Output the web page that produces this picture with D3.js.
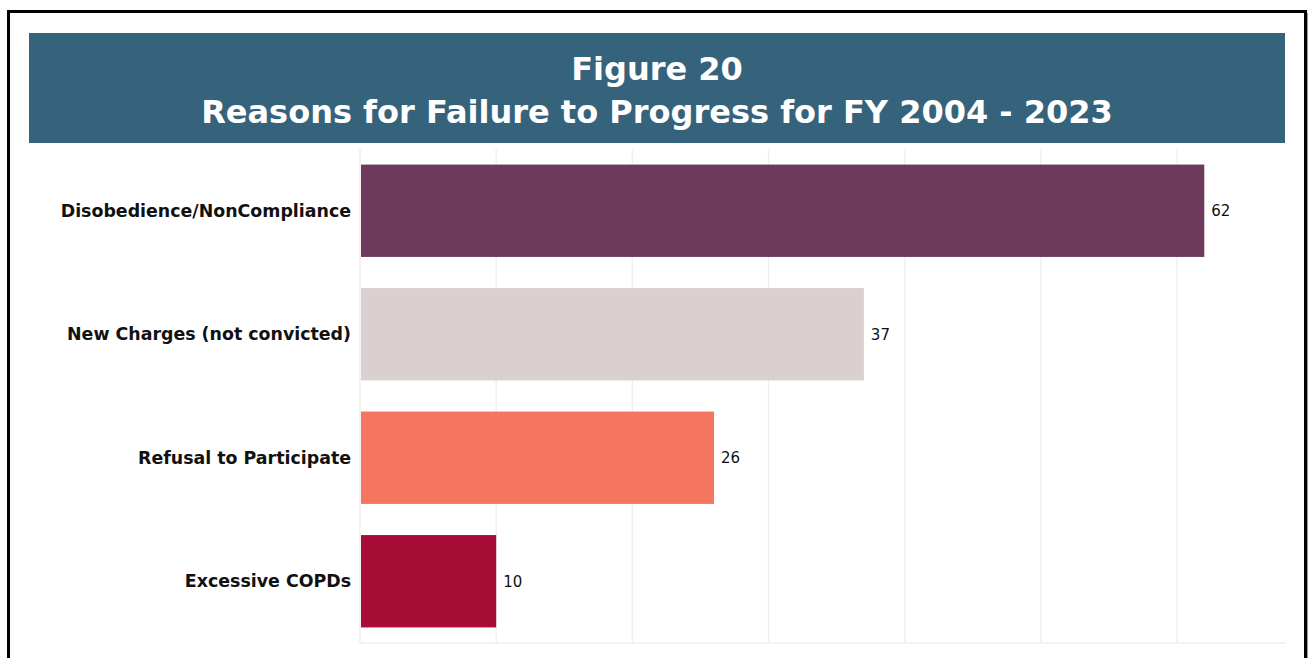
<!DOCTYPE html>
<html>
<head>
  <script src="https://cdn.jsdelivr.net/npm/d3@7"></script>
  <style>
    body { margin: 0; background: #fff; }
  </style>
</head>
<body>
  <svg width="1312" height="658"></svg>
  <script>
    const categories = ['Disobedience/NonCompliance', 'New Charges (not convicted)', 'Refusal to Participate', 'Excessive COPDs'];
    const values = [62, 37, 26, 10];
    const barColors = ['#6d3a5c', '#d9d0cf', '#f47661', '#a80d37'];
    const tickValues = [0, 10, 20, 30, 40, 50, 60];
    const titleLines = ['Figure 20', 'Reasons for Failure to Progress for FY 2004 - 2023'];

    const svg = d3.select('svg');
    const margin = { top: 149, right: 26, left: 360, bottom: 15 };
    const plotRight = 1286;
    const plotBottom = 643;

    // outer frame
    svg.append('rect')
      .attr('x', 11).attr('y', 13).attr('width', 1297).attr('height', 660)
      .attr('fill', '#999');
    svg.append('rect')
      .attr('x', 8.5).attr('y', 11.5).attr('width', 1297).attr('height', 660)
      .attr('fill', '#fff').attr('stroke', '#000').attr('stroke-width', 3);

    // title banner
    svg.append('rect')
      .attr('x', 29).attr('y', 33).attr('width', 1256).attr('height', 110)
      .attr('fill', '#36637c');
    svg.append('g').selectAll('text')
      .data(titleLines)
      .enter()
      .append('text')
      .attr('x', 657)
      .attr('y', (d, i) => 80 + i * 43)
      .attr('text-anchor', 'middle')
      .style('font-family', 'DejaVu Sans')
      .style('font-weight', 'bold')
      .style('font-size', '32px')
      .style('fill', '#fff')
      .text(d => d);

    const x = d3.scaleLinear().domain([0, 68]).range([margin.left, plotRight]);
    const y = d3.scaleBand().domain(categories).range([margin.top, plotBottom]).paddingInner(0.252).paddingOuter(0.126);

    // gridlines
    svg.append('g').selectAll('line')
      .data(tickValues)
      .enter()
      .append('line')
      .attr('x1', d => x(d)).attr('x2', d => x(d))
      .attr('y1', margin.top).attr('y2', plotBottom)
      .attr('stroke', '#efefef').attr('stroke-width', 1.5);
    svg.append('line')
      .attr('x1', margin.left).attr('x2', plotRight)
      .attr('y1', plotBottom).attr('y2', plotBottom)
      .attr('stroke', '#efefef').attr('stroke-width', 1.5);

    // bars
    svg.append('g').selectAll('rect')
      .data(values)
      .enter()
      .append('rect')
      .attr('x', x(0) + 1)
      .attr('y', (d, i) => y(categories[i]))
      .attr('width', d => x(d) - x(0) - 1)
      .attr('height', y.bandwidth())
      .attr('fill', (d, i) => barColors[i]);

    // value labels
    svg.append('g').selectAll('text')
      .data(values)
      .enter()
      .append('text')
      .attr('x', d => x(d) + 7)
      .attr('y', (d, i) => y(categories[i]) + y.bandwidth() / 2)
      .attr('dy', '0.35em')
      .style('font-family', 'DejaVu Sans')
      .style('font-size', '15px')
      .style('fill', '#111')
      .text(d => d);

    // category labels
    svg.append('g').selectAll('text')
      .data(categories)
      .enter()
      .append('text')
      .attr('x', margin.left - 9)
      .attr('y', d => y(d) + y.bandwidth() / 2)
      .attr('dy', '0.35em')
      .attr('text-anchor', 'end')
      .style('font-family', 'DejaVu Sans')
      .style('font-weight', 'bold')
      .style('font-size', '17.4px')
      .style('fill', '#111')
      .text(d => d);
  </script>
</body>
</html>
